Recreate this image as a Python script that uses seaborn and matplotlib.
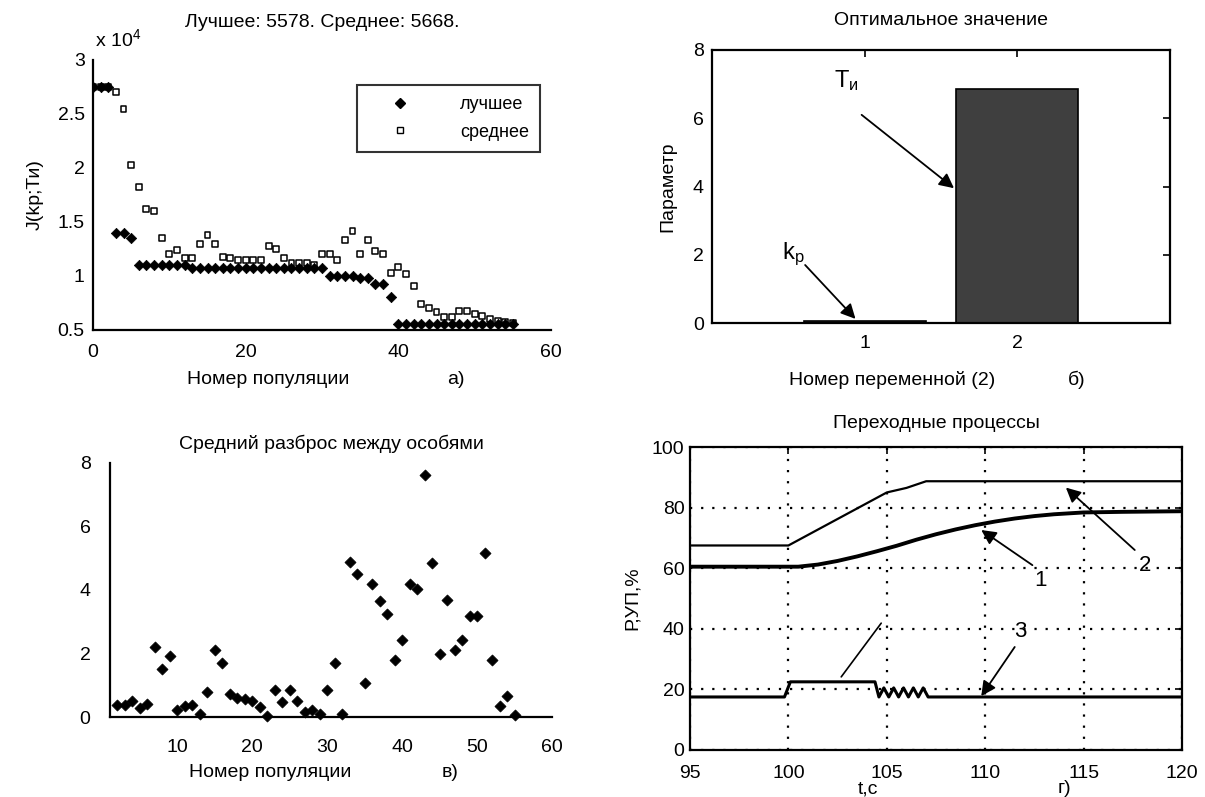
import matplotlib
matplotlib.use("Agg")
import matplotlib.pyplot as plt
import matplotlib.ticker as mticker
from matplotlib.lines import Line2D
import seaborn as sns
import pandas as pd

# ---------------- data ----------------
# a) best / mean fitness per generation (x 10^4)
gen_a = [0, 1, 2, 3, 4, 5, 6, 7, 8, 9, 10, 11, 12, 13, 14, 15, 16, 17, 18, 19,
         20, 21, 22, 23, 24, 25, 26, 27, 28, 29, 30, 31, 32, 33, 34, 35, 36, 37,
         38, 39, 40, 41, 42, 43, 44, 45, 46, 47, 48, 49, 50, 51, 52, 53, 54, 55]
best_j = [2.75, 2.75, 2.75, 1.40, 1.40, 1.35, 1.10, 1.10, 1.10, 1.10, 1.10, 1.10,
          1.10, 1.07, 1.07, 1.07, 1.07, 1.07, 1.07, 1.07, 1.07, 1.07, 1.07, 1.07,
          1.07, 1.07, 1.07, 1.07, 1.07, 1.07, 1.07, 1.00, 1.00, 1.00, 1.00, 0.98,
          0.98, 0.93, 0.93, 0.81, 0.56, 0.56, 0.56, 0.56, 0.56, 0.56, 0.56, 0.56,
          0.56, 0.56, 0.56, 0.56, 0.56, 0.56, 0.56, 0.56]
mean_j = [2.75, 2.75, 2.75, 2.70, 2.55, 2.03, 1.82, 1.62, 1.60, 1.35, 1.20, 1.24,
          1.17, 1.17, 1.30, 1.38, 1.30, 1.18, 1.17, 1.15, 1.15, 1.15, 1.15, 1.28,
          1.25, 1.17, 1.12, 1.12, 1.12, 1.10, 1.20, 1.20, 1.15, 1.33, 1.42, 1.20,
          1.33, 1.23, 1.20, 1.03, 1.08, 1.02, 0.91, 0.74, 0.70, 0.67, 0.62, 0.62,
          0.68, 0.68, 0.65, 0.63, 0.60, 0.58, 0.57, 0.567]

# b) optimal parameter values
var_idx = [1, 2]
param_vals = [0.05, 6.85]

# c) mean spread between individuals
gen_c = [2, 3, 4, 5, 6, 7, 8, 9, 10, 11, 12, 13, 14, 15, 16, 17, 18, 19, 20, 21,
         22, 23, 24, 25, 26, 27, 28, 29, 30, 31, 32, 33, 34, 35, 36, 37, 38, 39,
         40, 41, 42, 43, 44, 45, 46, 47, 48, 49, 50, 51, 52, 53, 54, 55]
spread = [0.37, 0.37, 0.50, 0.27, 0.42, 2.20, 1.50, 1.92, 0.22, 0.34, 0.37, 0.10,
          0.78, 2.10, 1.70, 0.72, 0.60, 0.56, 0.50, 0.32, 0.03, 0.85, 0.47, 0.85,
          0.50, 0.15, 0.22, 0.10, 0.85, 1.70, 0.10, 4.87, 4.49, 1.06, 4.20, 3.64,
          3.24, 1.80, 2.43, 4.20, 4.03, 7.63, 4.85, 1.98, 3.69, 2.10, 2.43, 3.18,
          3.18, 5.17, 1.80, 0.34, 0.67, 0.05]

# d) transient processes
t1 = [95, 100.5, 101.5, 102.5, 103.5, 104.5, 105.5, 106.5, 107.5, 108.5, 109.5,
      110.5, 111.5, 112.5, 113.5, 115, 117, 120]
y1 = [60.5, 60.5, 61.2, 62.4, 63.9, 65.6, 67.4, 69.4, 71.2, 72.8, 74.2, 75.4,
      76.4, 77.2, 77.8, 78.4, 78.6, 78.8]
t2 = [95, 100, 101, 102, 103, 104, 105, 106, 107, 120]
y2 = [67.5, 67.5, 71.0, 74.5, 78.0, 81.5, 85.0, 86.5, 88.7, 88.7]
t3 = [95, 99.8, 100.1, 104.4, 104.6, 104.85, 105.1, 105.35, 105.6, 105.85,
      106.1, 106.35, 106.6, 106.85, 107.1, 120]
y3 = [17.5, 17.5, 22.5, 22.5, 17.5, 20.5, 17.5, 20.5, 17.5, 20.5, 17.5, 20.5,
      17.5, 20.5, 17.5, 17.5]

# ---------------- style ----------------
sns.set_theme(style="white")
FONT = ["Liberation Sans", "DejaVu Sans"]
plt.rcParams["font.family"] = FONT
plt.rcParams["mathtext.fontset"] = "custom"
plt.rcParams["mathtext.rm"] = "Liberation Sans"
plt.rcParams["mathtext.it"] = "Liberation Sans"
FS = 14
plt.rcParams.update({
    "font.size": FS, "axes.titlesize": FS, "axes.labelsize": FS,
    "xtick.labelsize": FS, "ytick.labelsize": FS,
    "xtick.direction": "in", "ytick.direction": "in",
    "xtick.major.size": 5, "ytick.major.size": 5,
    "xtick.major.width": 1.2, "ytick.major.width": 1.2,
    "axes.edgecolor": "black", "axes.linewidth": 1.6,
    "xtick.color": "black", "ytick.color": "black", "text.color": "black",
    "axes.labelcolor": "black",
})

W, H = 1205, 797
fig = plt.figure(figsize=(W / 100, H / 100), dpi=100)
fig.patch.set_facecolor("white")


def box(l, t, r, b):
    return [l / W, 1 - b / H, (r - l) / W, (b - t) / H]


def place_xlabel(ax, text, x, y):
    ax.set_xlabel(text)
    ax.xaxis.label.set_va("center")
    ax.xaxis.set_label_coords(x, y)


fmt = mticker.FuncFormatter(lambda v, p: f"{v:g}")

# ---- a) ----
ax1 = fig.add_axes(box(93, 60, 551, 330))
sns.scatterplot(x=gen_a, y=best_j, marker="D", s=28, color="black",
                edgecolor="black", linewidth=0.5, ax=ax1, legend=False, zorder=3)
sns.scatterplot(x=gen_a, y=mean_j, marker="s", s=18, facecolors="none",
                edgecolors="black", linewidth=1.1, ax=ax1, legend=False, zorder=4)
ax1.set_xlim(0, 60)
ax1.set_ylim(0.5, 3)
ax1.set_xticks([0, 20, 40, 60])
ax1.set_yticks([0.5, 1, 1.5, 2, 2.5, 3])
ax1.yaxis.set_major_formatter(fmt)
ax1.tick_params(axis="x", pad=10)
ax1.tick_params(axis="y", pad=6)
for s in ["top", "right"]:
    ax1.spines[s].set_visible(False)
ax1.set_title("Лучшее: 5578. Среднее: 5668.", pad=24)
ax1.text(0.005, 1.035, r"x 10$^{4}$", transform=ax1.transAxes, fontsize=FS,
         ha="left", va="bottom")
ax1.set_ylabel("J(kp;Ти)", labelpad=10)
place_xlabel(ax1, "Номер популяции", 0.382, -0.185)
ax1.text(0.793, -0.185, "а)", transform=ax1.transAxes, ha="center", va="center")
handles = [
    Line2D([], [], marker="D", color="black", ls="none", markersize=5),
    Line2D([], [], marker="s", markerfacecolor="none", markeredgecolor="black",
           ls="none", markersize=4.5),
]
leg = ax1.legend(handles, ["лучшее", "среднее"], loc="upper right",
                 bbox_to_anchor=(0.976, 0.907), borderaxespad=0, frameon=True,
                 fancybox=False, edgecolor="black", handletextpad=1.6,
                 borderpad=0.6, labelspacing=0.6, handlelength=3.5,
                 fontsize=FS - 1)
leg.get_frame().set_linewidth(1.5)

# ---- b) ----
ax2 = fig.add_axes(box(712, 50, 1170, 323))
df_b = pd.DataFrame({"var": var_idx, "val": param_vals})
sns.barplot(data=df_b, x="var", y="val", native_scale=True, color="#3f3f3f",
            saturation=1, edgecolor="black", linewidth=1.2, width=0.8, ax=ax2)
ax2.set_xlim(0, 3)
ax2.set_ylim(0, 8)
ax2.set_xticks([1, 2])
ax2.set_yticks([0, 2, 4, 6, 8])
ax2.tick_params(top=True, right=True)
ax2.tick_params(axis="x", pad=9)
ax2.tick_params(axis="y", pad=6)
ax2.set_title("Оптимальное значение", pad=18)
ax2.set_ylabel("Параметр", labelpad=12)
place_xlabel(ax2, "Номер переменной (2)", 0.393, -0.21)
ax2.text(0.797, -0.21, "б)", transform=ax2.transAxes, ha="center", va="center")
arrow_kw = dict(arrowstyle="-|>", color="black", lw=1.3, mutation_scale=22,
                shrinkA=0, shrinkB=0)
ax2.annotate("", xy=(1.585, 3.95), xytext=(0.98, 6.1), arrowprops=arrow_kw)
ax2.text(0.88, 7.1, r"$\mathrm{T}_{\mathrm{и}}$", ha="center", va="center",
         fontsize=FS + 3)
ax2.annotate("", xy=(0.94, 0.12), xytext=(0.61, 1.7), arrowprops=arrow_kw)
ax2.text(0.53, 2.0, r"$\mathrm{k}_{\mathrm{p}}$", ha="center", va="center",
         fontsize=FS + 3)

# ---- c) ----
ax3 = fig.add_axes(box(110, 463, 552, 717))
sns.scatterplot(x=gen_c, y=spread, marker="D", s=32, color="black",
                edgecolor="black", linewidth=0.5, ax=ax3, legend=False,
                zorder=3, clip_on=False)
ax3.set_xlim(1, 60)
ax3.set_ylim(0, 8)
ax3.set_xticks([10, 20, 30, 40, 50, 60])
ax3.set_yticks([0, 2, 4, 6, 8])
ax3.tick_params(axis="x", pad=16)
ax3.tick_params(axis="y", pad=14)
for s in ["top", "right"]:
    ax3.spines[s].set_visible(False)
ax3.set_title("Средний разброс между особями", pad=10)
place_xlabel(ax3, "Номер популяции", 0.362, -0.22)
ax3.text(0.769, -0.22, "в)", transform=ax3.transAxes, ha="center", va="center")

# ---- d) ----
ax4 = fig.add_axes(box(690, 447, 1182, 750))
sns.lineplot(x=t1, y=y1, sort=False, estimator=None, color="black", lw=2.8, ax=ax4)
sns.lineplot(x=t2, y=y2, sort=False, estimator=None, color="black", lw=1.6, ax=ax4)
sns.lineplot(x=t3, y=y3, sort=False, estimator=None, color="black", lw=2.2, ax=ax4)
ax4.set_xlim(95, 120)
ax4.set_ylim(0, 100)
ax4.set_xticks([95, 100, 105, 110, 115, 120])
ax4.set_yticks([0, 20, 40, 60, 80, 100])
ax4.tick_params(top=True, right=True)
ax4.tick_params(axis="x", pad=11)
ax4.tick_params(axis="y", pad=4)
ax4.grid(True, linestyle=(0, (1, 4)), color="black", linewidth=1.6)
ax4.set_title("Переходные процессы", pad=14)
ax4.set_ylabel("Р,УП,%", labelpad=8)
place_xlabel(ax4, "t,c", 0.362, -0.128)
ax4.text(0.762, -0.128, "г)", transform=ax4.transAxes, ha="center", va="center")
ax4.annotate("", xy=(109.8, 72.6), xytext=(112.4, 61), arrowprops=arrow_kw)
ax4.text(112.8, 56, "1", ha="center", va="center", fontsize=FS + 2)
ax4.annotate("", xy=(114.1, 86.6), xytext=(117.6, 66), arrowprops=arrow_kw)
ax4.text(118.1, 61, "2", ha="center", va="center", fontsize=FS + 2)
ax4.annotate("", xy=(109.8, 17.8), xytext=(111.5, 34), arrowprops=arrow_kw)
ax4.text(111.8, 39, "3", ha="center", va="center", fontsize=FS + 2)
ax4.annotate("", xy=(102.6, 23.4), xytext=(104.8, 42.6),
             arrowprops=dict(arrowstyle="-", color="black", lw=1.2))

fig.savefig("out.png", dpi=100, facecolor="white")
